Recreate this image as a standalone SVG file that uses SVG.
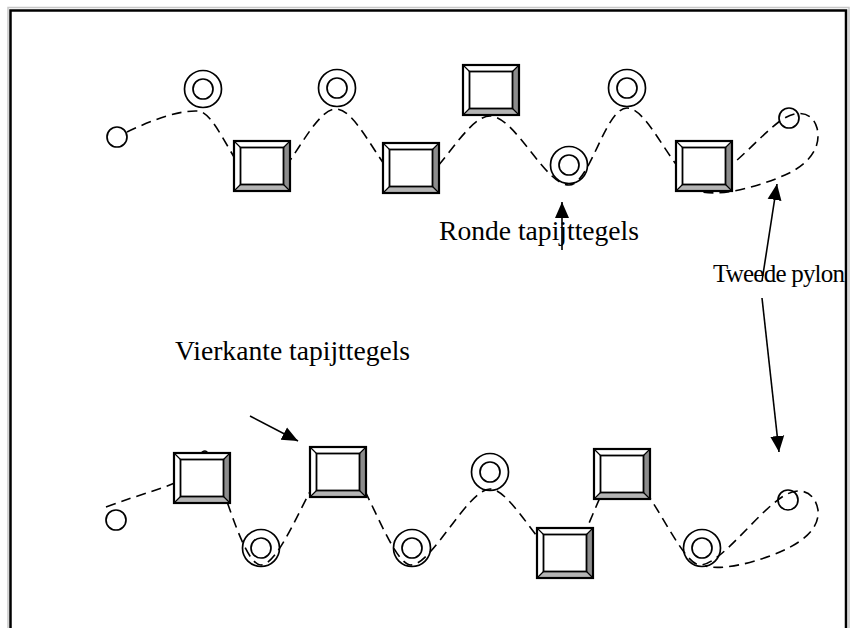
<svg xmlns="http://www.w3.org/2000/svg" xmlns:xlink="http://www.w3.org/1999/xlink" width="854" height="628" viewBox="0 0 854 628">
<style>
.frame{fill:none;stroke:#000;stroke-width:2.5}
.frame2{fill:none;stroke:#c8c8c8;stroke-width:1.5}
.path{fill:none;stroke:#000;stroke-width:1.6;stroke-dasharray:10 6}
.ring{fill:none;stroke:#000;stroke-width:1.7}
.arrow{fill:none;stroke:#000;stroke-width:1.6;marker-end:url(#ah)}
.lbl{font-family:"Liberation Serif","Times New Roman",serif;font-size:27.6px;fill:#000}
</style>
<defs>
<marker id="ah" markerUnits="userSpaceOnUse" markerWidth="17" markerHeight="17" viewBox="0 0 17 17" refX="16" refY="8.5" orient="auto">
<path d="M0,1.5 L16,8.5 L0,15.5 Z" fill="#000"/>
</marker>
<g id="tile">
<rect x="0" y="0" width="56" height="50" fill="#fff"/>
<polygon points="56,0 56,50 49.5,43.5 49.5,6.5" fill="#8c8c8c"/>
<polygon points="0,50 56,50 49.5,43.5 6.5,43.5" fill="#b4b4b4"/>
<rect x="6.5" y="6.5" width="43" height="37" fill="#fff" stroke="#000" stroke-width="1.8"/>
<path d="M0,0 L6.5,6.5 M56,0 L49.5,6.5 M0,50 L6.5,43.5 M56,50 L49.5,43.5" stroke="#000" stroke-width="1.2"/>
<rect x="0" y="0" width="56" height="50" fill="none" stroke="#000" stroke-width="2.2"/>
</g>
<g id="dring">
<circle r="18.5" class="ring"/>
<circle r="10" class="ring"/>
</g>
</defs>

<path class="frame2" d="M8,628 V7.5 H849 V628"/>
<path class="frame" d="M10.5,628 V10.5 H846 V628"/>

<g id="connectors">
<path class="path" d="M127,132 C150,121 178,110 198,111 C218,112 240,186 262,186 C285,186 312,109 336,109 C360,109 386,186 410,186 C435,186 465,116 490,116 C515,116 545,185 569,185 C590,185 605,108 627,108 C650,108 676,183 700,183 C720,183 755,140 780,121 C795,110 812,110 817,128 C822,148 808,165 785,175 C760,186 725,196 703,192"/>
<path class="path" d="M106,507 C140,494 168,488 185,478 C196,470 198,451 205,451 C216,451 240,565 261,565 C284,565 318,455 338,455 C358,455 390,565 411,565 C432,565 468,489 490,489 C512,489 545,560 564,560 C583,560 602,470 621,470 C645,470 680,565 700,565 C720,565 755,515 782,497 C800,485 815,492 818,510 C820,530 800,545 770,556 C745,565 720,570 705,566"/>
<path class="arrow" d="M562,250 L562,202"/>
<path class="arrow" d="M250,416 L298,441"/>
<path class="arrow" d="M762,281 L777,184"/>
<path class="arrow" d="M762,298 L779,452"/>
</g>

<g id="top-start"><circle cx="117" cy="137" r="10" class="ring"/></g>
<g id="top-ring1"><use xlink:href="#dring" x="203" y="89"/></g>
<g id="top-tile1"><use xlink:href="#tile" x="234" y="141"/></g>
<g id="top-ring2"><use xlink:href="#dring" x="337" y="88"/></g>
<g id="top-tile2"><use xlink:href="#tile" x="383" y="143"/></g>
<g id="top-tile3"><use xlink:href="#tile" x="463" y="65"/></g>
<g id="top-ring3"><use xlink:href="#dring" x="569" y="165"/></g>
<g id="top-ring4"><use xlink:href="#dring" x="627" y="88"/></g>
<g id="top-tile4"><use xlink:href="#tile" x="676" y="141"/></g>
<g id="top-pylon"><circle cx="789" cy="118" r="10" class="ring"/></g>

<g id="bot-start"><circle cx="116" cy="520" r="10" class="ring"/></g>
<g id="bot-tile1"><use xlink:href="#tile" x="174" y="453"/></g>
<g id="bot-ring1"><use xlink:href="#dring" x="261" y="548"/></g>
<g id="bot-tile2"><use xlink:href="#tile" x="310" y="447"/></g>
<g id="bot-ring2"><use xlink:href="#dring" x="412" y="548"/></g>
<g id="bot-ring3"><use xlink:href="#dring" x="490" y="472"/></g>
<g id="bot-tile3"><use xlink:href="#tile" x="537" y="528"/></g>
<g id="bot-tile4"><use xlink:href="#tile" x="594" y="449"/></g>
<g id="bot-ring4"><use xlink:href="#dring" x="702" y="548"/></g>
<g id="bot-pylon"><circle cx="788" cy="500" r="10" class="ring"/></g>

<g id="label-ronde"><text class="lbl" x="439" y="240">Ronde tapijttegels</text></g>
<g id="label-vierkante"><text class="lbl" x="175" y="360">Vierkante tapijttegels</text></g>
<g id="label-pylon"><text class="lbl" x="713" y="282" style="font-size:25px" textLength="132" lengthAdjust="spacing">Tweede pylon</text></g>
</svg>
